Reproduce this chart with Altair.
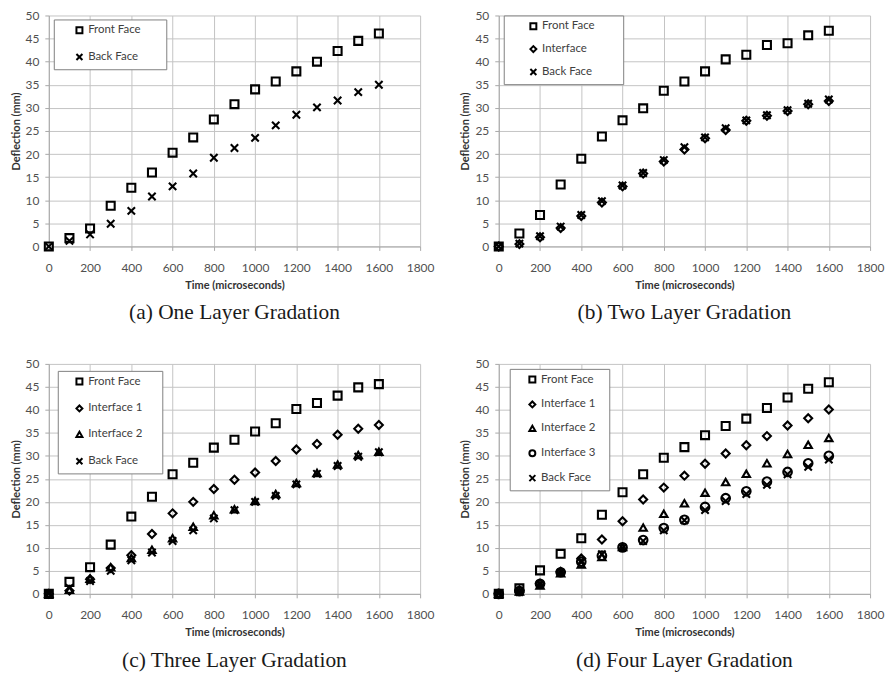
import altair as alt
import pandas as pd

time_us = [0, 100, 200, 300, 400, 500, 600, 700, 800, 900, 1000, 1100, 1200, 1300, 1400, 1500, 1600]

# (a) One Layer Gradation
a_front = [0, 1.8, 3.9, 8.8, 12.7, 16.0, 20.3, 23.6, 27.5, 30.8, 34.0, 35.7, 37.9, 40.0, 42.3, 44.5, 46.1]
a_back = [0, 1.2, 2.6, 4.9, 7.7, 10.8, 13.0, 15.8, 19.2, 21.3, 23.5, 26.2, 28.5, 30.1, 31.6, 33.4, 35.0]

# (b) Two Layer Gradation
b_front = [0, 2.8, 6.8, 13.4, 19.0, 23.8, 27.3, 29.9, 33.7, 35.7, 37.9, 40.5, 41.5, 43.6, 44.0, 45.7, 46.7]
b_inter = [0, 0.5, 2.0, 4.0, 6.6, 9.5, 13.0, 15.8, 18.4, 21.0, 23.4, 25.2, 27.2, 28.3, 29.3, 30.8, 31.5]
b_back = [0, 0.6, 2.2, 4.3, 6.8, 9.8, 13.2, 15.9, 18.7, 21.5, 23.6, 25.6, 27.3, 28.4, 29.5, 30.9, 31.8]

# (c) Three Layer Gradation
c_front = [0, 2.6, 5.8, 10.7, 16.8, 21.1, 26.0, 28.5, 31.8, 33.5, 35.3, 37.1, 40.2, 41.5, 43.1, 44.9, 45.6]
c_inter1 = [0, 0.7, 3.2, 5.6, 8.4, 13.0, 17.5, 20.0, 22.8, 24.8, 26.4, 28.9, 31.4, 32.6, 34.6, 35.9, 36.7]
c_inter2 = [0, 0.9, 3.3, 5.8, 7.8, 9.6, 12.1, 14.6, 17.1, 18.4, 20.2, 21.7, 24.1, 26.3, 28.1, 30.2, 30.9]
c_back = [0, 1.3, 2.8, 5.0, 7.3, 9.0, 11.5, 13.8, 16.4, 18.2, 20.0, 21.3, 23.8, 26.1, 27.8, 29.8, 30.8]

# (d) Four Layer Gradation
d_front = [0, 1.2, 5.1, 8.7, 12.1, 17.2, 22.1, 26.0, 29.6, 31.9, 34.5, 36.5, 38.1, 40.4, 42.7, 44.6, 46.0]
d_inter1 = [0, 0.8, 2.2, 4.8, 7.7, 11.8, 15.8, 20.5, 23.1, 25.7, 28.3, 30.5, 32.3, 34.3, 36.6, 38.2, 40.1]
d_inter2 = [0, 0.5, 1.8, 4.5, 6.4, 8.0, 10.2, 14.4, 17.4, 19.7, 22.0, 24.3, 26.1, 28.4, 30.4, 32.4, 33.9]
d_inter3 = [0, 0.6, 2.2, 4.7, 7.0, 8.3, 10.1, 11.7, 14.3, 16.1, 18.9, 20.8, 22.3, 24.4, 26.5, 28.4, 30.0]
d_back = [0, 0.4, 2.0, 4.6, 7.2, 8.6, 10.0, 11.5, 13.8, 16.0, 18.2, 20.2, 21.7, 23.7, 26.0, 27.6, 29.2]

captions = ["(a) One Layer Gradation", "(b) Two Layer Gradation",
            "(c) Three Layer Gradation", "(d) Four Layer Gradation"]

X_PATH = "M-1,-1L1,1M-1,1L1,-1"
SHAPES = {
    "Front Face": "square",
    "Interface": "diamond",
    "Interface 1": "diamond",
    "Interface 2": "triangle-up",
    "Interface 3": "circle",
    "Back Face": X_PATH,
}
SIZES = {"square": 64, "diamond": 64, "triangle-up": 55, "circle": 75, X_PATH: 55}

FONT = "Lato"
NBSP = "\u00a0"
ZWSP = "\u200b"  # keeps the trailing padding from being trimmed


def panel(names, values, caption, w, h, lx, ly, rowpad, symoff, nb):
    rows = []
    for k, (name, vals) in enumerate(zip(names, values)):
        for t, v in zip(time_us, vals):
            rows.append({"series": name, "time": t, "deflection": v, "k": k,
                         "sz": SIZES[SHAPES[name]]})
    df = pd.DataFrame(rows)
    shapes = [SHAPES[n] for n in names]
    return alt.Chart(df).mark_point(
        filled=False, strokeWidth=2.1, color="black", opacity=1
    ).encode(
        x=alt.X("time:Q", scale=alt.Scale(domain=[0, 1800], nice=False),
                axis=alt.Axis(values=list(range(0, 1801, 200)), format="d",
                              labelOverlap=False, labelFlush=False,
                              title="Time (microseconds)")),
        y=alt.Y("deflection:Q", scale=alt.Scale(domain=[0, 50], nice=False),
                axis=alt.Axis(values=list(range(0, 51, 5)), format="d",
                              labelOverlap=False, labelFlush=False,
                              title="Deflection (mm)")),
        shape=alt.Shape("series:N", scale=alt.Scale(domain=names, range=shapes),
                        legend=alt.Legend(
                            title=None,
                            orient="none", legendX=lx, legendY=ly,
                            rowPadding=rowpad,
                            symbolOffset=symoff, labelOffset=3,
                            labelExpr="datum.label + '" + NBSP * nb + ZWSP + "'",
                        )),
        size=alt.Size("sz:Q", scale=None),
        order=alt.Order("k:Q"),
    ).properties(
        width=w, height=h,
        title=alt.TitleParams(caption, orient="bottom", font="Liberation Serif",
                              fontSize=21.5, fontWeight="normal", color="#1a1a1a",
                              offset=12, anchor="middle"),
    )


pa = panel(["Front Face", "Back Face"], [a_front, a_back], captions[0], 373, 232, 5, 4, 12, 15, 7)
pb = panel(["Front Face", "Interface", "Back Face"], [b_front, b_inter, b_back], captions[1],
           373, 232, 5, 0, 8, 19, 8)
pc = panel(["Front Face", "Interface 1", "Interface 2", "Back Face"],
           [c_front, c_inter1, c_inter2, c_back], captions[2], 373, 231, 9, 7, 12, 11, 5)
pd_ = panel(["Front Face", "Interface 1", "Interface 2", "Interface 3", "Back Face"],
            [d_front, d_inter1, d_inter2, d_inter3, d_back], captions[3], 373, 231, 11, 5, 10, 12, 3)

row1 = alt.hconcat(pa, pb, spacing=26).resolve_scale(shape="independent").resolve_legend(shape="independent")
row2 = alt.hconcat(pc, pd_, spacing=26).resolve_scale(shape="independent").resolve_legend(shape="independent")

chart = alt.vconcat(row1, row2, spacing=34).resolve_scale(shape="independent").resolve_legend(
    shape="independent"
).properties(
    padding={"left": 2, "top": 0, "right": 2, "bottom": 2}
).configure_view(strokeWidth=0).configure_axis(
    gridColor="#c4c4c4", gridWidth=1,
    domainColor="#a8a8a8", tickColor="#a8a8a8", tickSize=4,
    labelFont=FONT, labelFontSize=12, labelColor="#505050",
    titleFont=FONT, titleFontSize=11, titleFontWeight="bold", titleColor="#333333",
).configure_axisX(labelPadding=12, titlePadding=6).configure_axisY(
    labelPadding=6, titlePadding=4
).configure_legend(
    fillColor="white", strokeColor="#808080", strokeWidth=1, padding=5,
    labelFont=FONT, labelFontSize=11.5, labelColor="#404040",
    symbolStrokeColor="black", symbolStrokeWidth=2, symbolSize=36, symbolType="square",
).configure_point(opacity=1)

chart.save("out.html", embed_options={"renderer": "svg", "actions": False})
